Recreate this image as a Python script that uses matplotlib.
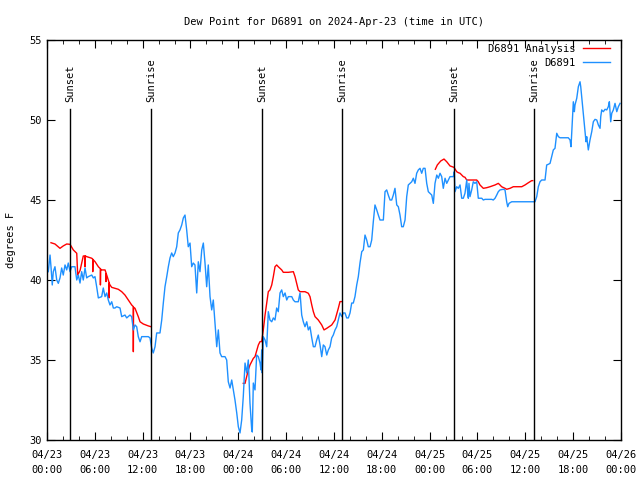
import matplotlib
matplotlib.use("Agg")
import matplotlib.pyplot as plt
import numpy as np
from datetime import datetime, timedelta
import matplotlib.dates as mdates

plt.rcParams['font.family'] = ['DejaVu Sans Mono']
plt.rcParams['font.size'] = 7

start = datetime(2024, 4, 23, 0, 0)

# observed dew point (hours since 04/23 00:00 UTC, deg F)
obs_hours = [
    0.16, 0.38, 0.50, 0.66, 0.79, 1.00, 1.22, 1.42, 1.63, 1.84, 2.04, 2.26, 2.47, 2.67, 2.89,
    3.10, 3.51, 3.73, 3.93, 4.14, 4.35, 4.55, 4.77, 4.98, 5.18, 5.61, 5.81, 6.02, 6.23, 6.44,
    6.86, 7.06, 7.28, 7.49, 7.69, 7.90, 8.12, 8.32, 8.53, 8.74, 9.16, 9.37, 9.78, 10.00, 10.41,
    10.62, 10.83, 11.04, 11.25, 11.45, 11.67, 11.88, 12.29, 12.71, 12.92, 13.13, 13.33, 13.55,
    13.76, 14.17, 14.39, 14.59, 14.80, 15.02, 15.22, 15.43, 15.64, 15.84, 16.06, 16.27, 16.47,
    16.68, 16.90, 17.10, 17.31, 17.52, 17.72, 17.94, 18.15, 18.35, 18.56, 18.78, 18.98, 19.19,
    19.41, 19.61, 19.82, 20.03, 20.23, 20.45, 20.66, 20.86, 21.07, 21.29, 21.49, 21.70, 21.91,
    22.33, 22.54, 22.74, 22.96, 23.17, 23.37, 23.58, 23.80, 24.00, 24.21, 24.42, 24.62, 24.84,
    25.05, 25.25, 25.46, 25.68, 25.75, 25.88, 26.09, 26.30, 26.51, 26.72, 26.84, 26.93, 27.00,
    27.13, 27.35, 27.56, 27.76, 27.97, 28.19, 28.39, 28.60, 28.81, 29.01, 29.23, 29.44, 29.64,
    29.86, 30.07, 30.27, 30.70, 30.90, 31.11, 31.52, 31.74, 31.95, 32.15, 32.36, 32.58, 32.78,
    32.99, 33.21, 33.41, 33.62, 33.83, 34.03, 34.25, 34.46, 34.66, 34.87, 35.09, 35.29, 35.50,
    35.71, 35.91, 36.13, 36.34, 36.75, 36.97, 37.17, 37.38, 37.59, 37.80, 38.01, 38.22, 38.42,
    38.63, 38.85, 39.05, 39.26, 39.48, 39.68, 39.89, 40.10, 40.30, 40.52, 40.73, 40.93, 41.14,
    41.36, 41.56, 41.77, 42.19, 42.40, 42.61, 42.81, 43.03, 43.24, 43.44, 43.65, 43.87, 44.07,
    44.28, 44.49, 44.69, 44.91, 45.12, 45.32, 45.53, 45.75, 45.95, 46.16, 46.37, 46.58, 46.79,
    47.00, 47.20, 47.42, 47.63, 47.83, 48.04, 48.26, 48.46, 48.67, 48.89, 49.09, 49.30, 49.51,
    49.71, 49.93, 50.14, 50.34, 50.55, 50.97, 51.09, 51.18, 51.39, 51.59, 51.81, 52.02, 52.22,
    52.43, 52.65, 52.77, 52.85, 52.93, 53.06, 53.27, 53.47, 53.68, 53.90, 54.10, 54.53, 54.73,
    54.94, 55.78, 55.98, 56.20, 56.41, 56.61, 56.82, 57.24, 57.45, 57.66, 57.79, 57.95, 58.29,
    61.21, 61.43, 61.63, 61.84, 62.05, 62.47, 62.68, 62.88, 63.10, 63.31, 63.51, 63.72, 63.94,
    64.14, 64.35, 65.39, 65.61, 65.73, 65.82, 66.02, 66.15, 66.23, 66.45, 66.65, 66.86, 66.95,
    67.07, 67.27, 67.49, 67.61, 67.70, 67.90, 68.11, 68.33, 68.53, 68.74, 68.96, 69.16, 69.37,
    69.46, 69.58, 69.78, 70.00, 70.21, 70.41, 70.54, 70.71, 70.84, 71.04, 71.25, 71.47, 71.67,
    71.88,
]
obs_vals = [
    40.52, 41.56, 40.83, 39.69, 40.52, 40.83, 40.00, 39.79, 40.13, 40.75, 40.31, 40.94, 40.63, 41.06, 40.52,
    40.83, 40.83, 40.00, 40.31, 39.81, 40.52, 40.00, 40.75, 40.13, 40.21, 40.31, 40.13, 40.21, 39.58, 38.88,
    38.96, 39.50, 38.96, 39.19, 38.75, 38.44, 38.64, 38.25, 38.25, 38.33, 38.25, 37.71, 37.81, 37.63, 37.81,
    37.71, 36.88, 37.19, 37.08, 36.46, 36.14, 36.46, 36.46, 36.46, 36.38, 35.75, 35.44, 35.83,
    36.69, 36.69, 37.50, 38.56, 39.58, 40.21, 40.83, 41.38, 41.69, 41.46, 41.69, 42.08, 42.94,
    43.13, 43.44, 43.88, 44.06, 43.13, 42.08, 42.31, 40.83, 41.06, 40.94, 39.19, 41.14, 40.52,
    41.88, 42.31, 41.06, 39.58, 40.94, 38.96, 38.13, 38.75, 37.31, 35.83, 36.88, 35.44, 35.21,
    35.21, 35.00, 33.64, 33.25, 33.75, 33.13, 32.50, 31.69, 30.83, 30.44, 31.25, 32.71, 34.81,
    34.19, 35.00, 32.31, 30.63, 30.50, 33.56, 33.13, 35.31, 35.21, 34.81, 34.38, 35.63, 34.19,
    36.46, 36.25, 35.83, 38.02, 37.50, 37.39, 37.63, 37.50, 38.25, 38.02, 39.19, 39.38, 38.96,
    39.19, 38.75, 38.96, 38.96, 38.75, 38.64, 38.64, 39.19, 37.81, 37.39, 37.08, 37.39, 36.88,
    37.08, 36.38, 35.83, 35.83, 36.25, 36.56, 35.94, 35.21, 35.94, 35.83, 35.31, 35.63, 35.83,
    36.38, 36.56, 36.88, 37.08, 37.94, 37.71, 37.94, 37.94, 37.63, 37.63, 37.94, 38.56, 38.56,
    38.96, 39.69, 40.21, 41.06, 41.77, 41.88, 42.81, 42.50, 42.08, 42.08, 42.50, 43.64, 44.69,
    44.38, 44.06, 43.75, 43.75, 45.52, 45.63, 45.31, 45.00, 45.00, 45.31, 45.73, 44.69, 44.58,
    44.06, 43.33, 43.33, 43.75, 45.21, 45.94, 46.04, 46.14, 46.36, 46.04, 46.67, 46.88, 46.98,
    46.67, 46.98, 46.98, 46.04, 45.52, 45.42, 45.31, 44.79, 46.04, 46.56, 46.36, 46.67, 46.46,
    45.73, 46.36, 46.04, 46.25, 46.46, 46.46, 46.77, 45.52, 45.83, 45.73, 45.94, 45.11, 45.11,
    45.42, 46.25, 45.42, 45.11, 46.04, 45.21, 45.63, 46.14, 46.04, 46.14, 45.11, 45.11, 45.00,
    45.04, 45.04, 45.00, 45.11, 45.31, 45.52, 45.63, 45.67, 45.63, 44.89, 44.58, 44.79, 44.89,
    44.89, 45.21, 45.83, 46.14, 46.25, 46.25, 47.19, 47.23, 47.29, 47.71, 48.13, 48.23, 49.17,
    48.96, 48.89, 48.89, 48.75, 48.33, 49.17, 51.14, 50.52, 50.94, 51.36, 52.08, 52.39, 52.08,
    51.46, 50.42, 49.27, 48.64, 48.96, 48.13, 48.75, 49.27, 49.89, 50.04, 50.00, 49.69, 49.48,
    50.21, 50.63, 50.52, 50.67, 50.63, 50.83, 51.14, 49.89, 50.42, 50.63, 51.04, 50.52, 50.83,
    51.04,
]

# analysis dew point (NaN separates the three analysis periods)
ana_hours = [
    0.50, 1.00, 1.63, 2.04, 2.47, 2.89, 3.30, 3.73, 3.85, 4.15, 4.55, 4.77, 4.77, 4.80, 4.98,
    5.61, 5.74, 5.74, 5.76, 6.02, 6.44, 6.70, 6.70, 6.72, 6.86, 7.28, 7.40, 7.40, 7.42, 7.49,
    7.69, 7.78, 7.78, 7.80, 7.90, 8.12, 8.53, 8.94, 9.37, 9.78, 10.20, 10.62, 10.83, 10.83,
    10.85, 11.04, 11.45, 11.67, 12.08, 12.71, 13.05, np.nan,
    24.62, 24.84, 25.05, 25.25, 25.46, 25.68, 25.88, 26.09, 26.51, 26.72, 26.93, 27.13, 27.35,
    27.56, 27.76, 27.97, 28.19, 28.39, 28.60, 28.81, 29.01, 29.44, 29.64, 30.27, 30.90, 31.11,
    31.32, 31.52, 31.74, 32.36, 32.78, 32.99, 33.21, 33.41, 33.62, 34.03, 34.46, 34.75, 35.09,
    35.71, 36.13, 36.54, 36.75, 36.97, np.nan,
    48.71, 48.96, 49.39, 49.80, 50.14, 50.55, 51.05, 51.18, 51.39, 51.59, 51.81, 52.02, 52.22,
    52.43, 52.65, 53.90, 54.10, 54.31, 54.53, 54.73, 55.16, 55.57, 56.20, 56.61, 56.82, 57.03,
    57.45, 57.66, 58.08, 58.49, 59.55, 59.96, 60.38, 60.80, 60.93,
]
ana_vals = [
    42.33, 42.25, 41.98, 42.13, 42.25, 42.23, 41.88, 41.67, 40.31, 40.60, 41.50, 41.50, 40.83, 41.50, 41.46,
    41.36, 41.30, 40.52, 41.28, 41.15, 40.83, 40.70, 39.69, 40.68, 40.63, 40.63, 40.45, 39.90, 40.40, 40.31,
    40.00, 39.85, 38.88, 39.80, 39.69, 39.54, 39.48, 39.42, 39.27, 39.06, 38.75, 38.44, 38.33, 35.52,
    38.30, 38.23, 37.71, 37.39, 37.25, 37.13, 37.08, np.nan,
    33.54, 33.54, 33.96, 34.38, 34.69, 34.90, 35.10, 35.21, 35.94, 36.15, 36.15, 36.88, 37.81,
    38.54, 39.27, 39.38, 39.69, 40.21, 40.83, 40.94, 40.83, 40.63, 40.48, 40.48, 40.52, 40.21,
    39.79, 39.38, 39.27, 39.27, 39.17, 38.96, 38.44, 38.02, 37.71, 37.50, 37.19, 36.88, 36.98,
    37.19, 37.50, 38.23, 38.65, 38.65, np.nan,
    46.92, 47.19, 47.44, 47.56, 47.39, 47.13, 47.04, 46.94, 46.77, 46.71, 46.67, 46.56, 46.46,
    46.42, 46.25, 46.25, 46.14, 45.94, 45.83, 45.73, 45.77, 45.83, 45.94, 46.04, 45.94, 45.83,
    45.73, 45.67, 45.73, 45.83, 45.83, 45.94, 46.08, 46.21, 46.21,
]

# sun events (hours since start)
sun_hours = [2.92, 13.05, 27.0, 37.05, 51.1, 61.1]
sun_labels = ['Sunset', 'Sunrise', 'Sunset', 'Sunrise', 'Sunset', 'Sunrise']

fig = plt.figure(figsize=(6.4, 4.8), dpi=100)
ax = fig.add_axes([47 / 640, 40 / 480, 574 / 640, 400 / 480])

obs_t = [start + timedelta(hours=h) for h in obs_hours]
ana_t = [start + timedelta(hours=0 if np.isnan(h) else h) for h in ana_hours]
ana_v = np.array(ana_vals, dtype=float)

ax.plot(ana_t, ana_v, color='#ff0000', lw=1, label='D6891 Analysis')
ax.plot(obs_t, obs_vals, color='#1e90ff', lw=1, label='D6891')

for h, lab in zip(sun_hours, sun_labels):
    t = start + timedelta(hours=h)
    ax.axvline(t, ymin=0, ymax=0.8275, color='black', lw=1)
    ax.text(t, 0.845, lab, rotation=90, ha='center', va='bottom',
            transform=ax.get_xaxis_transform(), fontsize=7.5)

ax.set_xlim(start, start + timedelta(hours=72))
ax.set_ylim(30, 55)
ax.set_yticks([30, 35, 40, 45, 50, 55])
ax.xaxis.set_major_locator(mdates.HourLocator(byhour=[0, 6, 12, 18]))
ax.xaxis.set_minor_locator(mdates.HourLocator(byhour=range(0, 24, 2)))
ax.xaxis.set_major_formatter(mdates.DateFormatter('%m/%d\n%H:%M'))
ax.tick_params(which='both', direction='in', top=True, right=True, labelsize=7.5)
ax.tick_params(which='major', length=6)
ax.tick_params(which='minor', length=3)
ax.tick_params(axis='x', which='major', pad=7)
for lab in ax.get_xticklabels():
    lab.set_linespacing(1.6)
for s in ax.spines.values():
    s.set_linewidth(1)

ax.set_ylabel('degrees F', fontsize=7.5)
ax.yaxis.set_label_coords(-0.0535, 0.5)
ax.set_title('Dew Point for D6891 on 2024-Apr-23 (time in UTC)', fontsize=7.5, pad=11)
ax.legend(loc='upper right', bbox_to_anchor=(1 - 11 / 574, 0.99), frameon=False,
          markerfirst=False, fontsize=7.5, handlelength=2.6, handletextpad=0.7,
          borderaxespad=0, borderpad=0, labelspacing=0.35)

plt.savefig('out.png', dpi=100)
plt.close()
